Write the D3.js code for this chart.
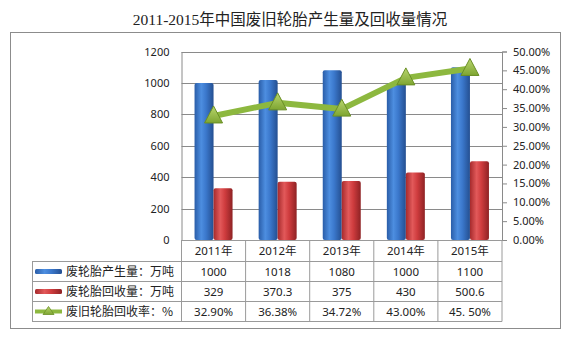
<!DOCTYPE html>
<html><head><meta charset="utf-8">
<script src="https://cdn.jsdelivr.net/npm/d3@7/dist/d3.min.js"></script>
<style>body{margin:0;background:#fff}svg{display:block}</style>
</head><body>
<svg id="c" width="575" height="339"></svg>
<script>
const title = "2011-2015年中国废旧轮胎产生量及回收量情况";
const years = ["2011年","2012年","2013年","2014年","2015年"];
const production = [1000,1018,1080,1000,1100];
const recovery = [329,370.3,375,430,500.6];
const rate = [0.329,0.3638,0.3472,0.43,0.455];
const productionLabels = ["1000","1018","1080","1000","1100"];
const recoveryLabels = ["329","370.3","375","430","500.6"];
const rateLabels = ["32.90%","36.38%","34.72%","43.00%","45. 50%"];
const seriesNames = ["废轮胎产生量：万吨","废轮胎回收量：万吨","废旧轮胎回收率：%"];
const leftTicks = [0,200,400,600,800,1000,1200];
const rightTicks = [0,0.05,0.1,0.15,0.2,0.25,0.3,0.35,0.4,0.45,0.5];

const svg = d3.select("#c");
const L = 181.5, R = 502, T = 51.5, B = 240;
const x = d3.scaleBand().domain(years).range([L, R]);
const yL = d3.scaleLinear().domain([0,1200]).range([B, T]);
const yR = d3.scaleLinear().domain([0,0.5]).range([B, T]);
const font = "'Noto Sans','Noto Sans CJK SC',sans-serif";

const defs = svg.append("defs");
function grad(id, stops){
  const g = defs.append("linearGradient").attr("id", id).attr("x1","0").attr("x2","1").attr("y1","0").attr("y2","0");
  stops.forEach(s => g.append("stop").attr("offset", s[0]).attr("stop-color", s[1]));
}
grad("gBlue", [[0,"#2a5da8"],[0.35,"#4d8ee0"],[0.6,"#3b78cc"],[1,"#244f91"]]);
grad("gRed", [[0,"#a62a2c"],[0.35,"#e2595a"],[0.6,"#cf3c3e"],[1,"#8e2224"]]);
const gTri = defs.append("linearGradient").attr("id","gTri").attr("x1","0").attr("x2","0").attr("y1","0").attr("y2","1");
gTri.append("stop").attr("offset",0).attr("stop-color","#b9d66e");
gTri.append("stop").attr("offset",1).attr("stop-color","#7ea531");

// frame
svg.append("rect").attr("x",10.5).attr("y",32.5).attr("width",550).attr("height",296)
  .attr("fill","none").attr("stroke","#8c8c8c");

// title
svg.append("text").attr("x",290).attr("y",25).attr("text-anchor","middle")
  .attr("font-family","'Liberation Serif','Noto Sans CJK SC',serif").attr("font-size",15.5).attr("fill","#222").text(title);

// gridlines
svg.append("g").selectAll("line").data(leftTicks.filter(d=>d>0)).join("line")
  .attr("x1",L).attr("x2",R).attr("y1",d=>Math.round(yL(d))+0.5).attr("y2",d=>Math.round(yL(d))+0.5)
  .attr("stroke","#8a8a8a").attr("stroke-width",1);

// left axis
const axL = svg.append("g").attr("transform",`translate(${L},0)`)
  .call(d3.axisLeft(yL).tickValues(leftTicks).tickSize(0).tickPadding(12).tickFormat(d3.format("d")));
axL.select(".domain").attr("stroke","#8a8a8a");
axL.selectAll("text").attr("font-family",font).attr("font-size",11).attr("fill","#222");

// right axis
const axR = svg.append("g").attr("transform",`translate(${R},0)`)
  .call(d3.axisRight(yR).tickValues(rightTicks).tickSize(5).tickPadding(6).tickFormat(d3.format(".2%")));
axR.selectAll("line,.domain").attr("stroke","#8a8a8a");
axR.selectAll("text").attr("font-family",font).attr("font-size",11).attr("fill","#222");

// bars
const bw = 19;
const bars = svg.append("g");
years.forEach((yr,i)=>{
  const cx = x(yr) + x.bandwidth()/2;
  bars.append("rect").attr("x",cx-bw).attr("width",bw).attr("y",yL(production[i])).attr("height",B-yL(production[i]))
    .attr("fill","url(#gBlue)").attr("rx",2);
  bars.append("rect").attr("x",cx).attr("width",bw).attr("y",yL(recovery[i])).attr("height",B-yL(recovery[i]))
    .attr("fill","url(#gRed)").attr("rx",2);
});

// line
const pts = years.map((yr,i)=>[x(yr)+x.bandwidth()/2, yR(rate[i])]);
svg.append("path").attr("d",d3.line()(pts)).attr("fill","none").attr("stroke","#8db83f").attr("stroke-width",6).attr("stroke-linejoin","round");
svg.append("g").selectAll("path").data(pts).join("path")
  .attr("d",d=>`M${d[0]},${d[1]-10}L${d[0]+9},${d[1]+7}L${d[0]-9},${d[1]+7}Z`)
  .attr("fill","url(#gTri)").attr("stroke","#6a8f25").attr("stroke-width",1);

// table
const tg = svg.append("g");
const rows = [240, 261.5, 281.5, 301.5, 321.5];
const tc = "#9a9a9a";
tg.append("line").attr("x1",L).attr("x2",R).attr("y1",240.5).attr("y2",240.5).attr("stroke",tc);
rows.slice(1).forEach(r=>tg.append("line").attr("x1",32).attr("x2",R).attr("y1",r).attr("y2",r).attr("stroke",tc));
tg.append("line").attr("x1",32.5).attr("x2",32.5).attr("y1",261.5).attr("y2",321.5).attr("stroke",tc);
[L, ...years.map(y=>x(y)+x.bandwidth())].forEach(xx=>
  tg.append("line").attr("x1",xx).attr("x2",xx).attr("y1",240).attr("y2",321.5).attr("stroke",tc));

const rowData = [years, productionLabels, recoveryLabels, rateLabels];
rowData.forEach((arr,ri)=>{
  const cy = (rows[ri]+rows[ri+1])/2;
  tg.selectAll(null).data(arr).join("text")
    .attr("x",(d,i)=>x(years[i])+x.bandwidth()/2).attr("y",cy).attr("dy","0.36em")
    .attr("text-anchor","middle").attr("font-family",font).attr("font-size",11.5).attr("fill","#222").text(d=>d);
});

// legend cells
seriesNames.forEach((name,i)=>{
  const cy = (rows[i+1]+rows[i+2])/2;
  if(i===0) tg.append("rect").attr("x",35).attr("y",cy-2.5).attr("width",27).attr("height",5).attr("fill","url(#gBlue)").attr("rx",1.5);
  if(i===1) tg.append("rect").attr("x",35).attr("y",cy-2.5).attr("width",27).attr("height",5).attr("fill","url(#gRed)").attr("rx",1.5);
  if(i===2){
    tg.append("line").attr("x1",35).attr("x2",62).attr("y1",cy).attr("y2",cy).attr("stroke","#8db83f").attr("stroke-width",4);
    tg.append("path").attr("d",`M48.5,${cy-5}L54,${cy+3}L43,${cy+3}Z`).attr("fill","url(#gTri)").attr("stroke","#6a8f25").attr("stroke-width",0.8);
  }
  tg.append("text").attr("x",66).attr("y",cy).attr("dy","0.36em").attr("font-family","'Noto Sans CJK SC',sans-serif")
    .attr("font-size",12).attr("fill","#222").text(name);
});
</script>
</body></html>
